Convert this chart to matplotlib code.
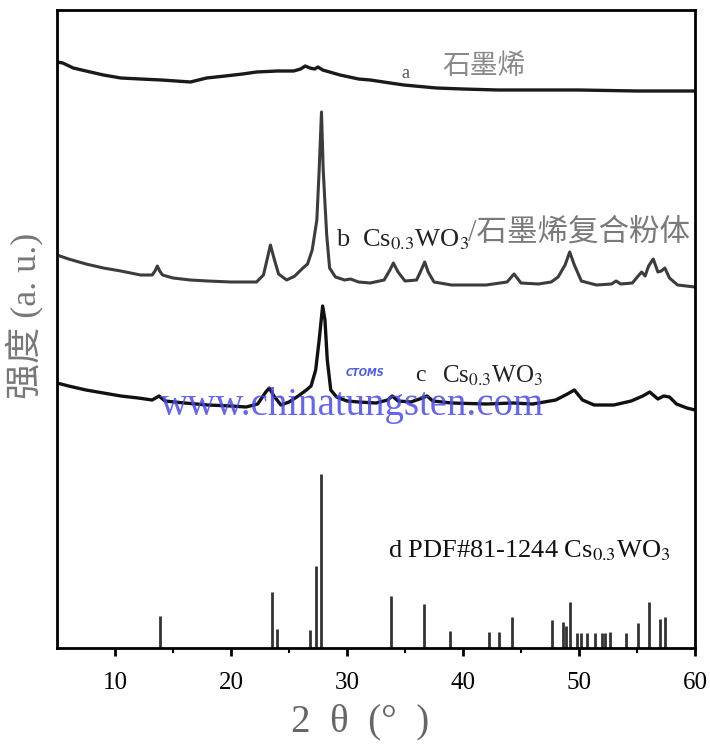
import matplotlib.pyplot as plt

# curve a: graphene (2theta, intensity in arbitrary units)
a_x = [5.0, 5.5, 6.4, 7.5, 9.0, 10.5, 12.2, 14.0, 16.5, 17.9, 19.5, 21.0, 22.2, 24.0,
       25.4, 26.0, 26.4, 26.8, 27.2, 27.5, 27.9, 29.4, 31.0, 32.0, 34.9, 37.7, 40.0,
       43.0, 46.4, 50.0, 55.0, 60.0]
a_y = [586, 585, 580, 577, 573, 570, 569, 568, 566, 570, 572, 574, 576, 577,
       577, 579, 582, 580, 579, 581, 578, 573, 569, 568, 563, 560, 559,
       558, 558, 558, 557, 557]

# curve b: Cs0.3WO3 / graphene composite
b_x = [5.0, 6.0, 7.5, 9.0, 10.5, 12.2, 13.2, 13.45, 13.65, 13.85, 14.1, 15.0, 16.5, 18.0,
       20.0, 22.2, 22.8, 23.1, 23.4, 23.7, 24.1, 24.8, 25.5, 26.2, 26.6, 27.0, 27.4,
       27.6, 27.8, 27.95, 28.1, 28.25, 28.5, 29.0, 29.8, 30.3, 31.0, 32.0, 33.2, 33.7,
       34.0, 34.4, 35.0, 36.0, 36.4, 36.7, 37.0, 37.5, 39.0, 42.0, 43.8, 44.4, 45.0,
       46.5, 47.6, 48.2, 48.8, 49.2, 49.6, 50.2, 51.5, 52.8, 53.2, 53.6, 54.6, 55.1,
       55.4, 55.7, 56.0, 56.4, 56.8, 57.1, 57.4, 57.8, 58.5, 60.0]
b_y = [393, 389, 384, 380, 377, 373, 373, 377, 382, 377, 373, 370, 368, 367,
       366, 366, 373, 388, 403, 390, 374, 368, 372, 380, 384, 398, 428,
       478, 536, 478, 445, 413, 380, 371, 368, 369, 366, 365, 368, 378,
       385, 376, 367, 368, 378, 386, 376, 366, 363, 363, 366, 374, 365,
       364, 366, 371, 383, 396, 383, 367, 363, 364, 367, 364, 365, 372,
       376, 372, 382, 389, 376, 377, 380, 370, 363, 361]

# curve c: Cs0.3WO3
c_x = [5.0, 6.0, 7.5, 9.0, 10.5, 12.0, 13.2, 13.8, 14.3, 16.0, 18.0, 20.0, 21.3, 22.3,
       23.0, 23.3, 23.7, 24.3, 25.0, 25.8, 26.5, 26.9, 27.3, 27.6, 27.9, 28.1, 28.3,
       28.6, 29.1, 30.0, 31.0, 32.5, 33.5, 33.9, 34.4, 35.5, 36.5, 36.9, 37.4, 39.0,
       42.0, 44.3, 46.0, 48.0, 49.0, 49.6, 50.3, 51.3, 53.0, 54.5, 55.5, 56.1, 56.8,
       57.3, 57.8, 58.4, 59.3, 60.0]
c_y = [265, 262, 258, 255, 252, 250, 248, 252, 247, 245, 243, 242, 241, 244,
       256, 260, 252, 243, 246, 252, 258, 262, 278, 308, 342, 328, 288,
       258, 251, 247, 246, 245, 248, 252, 247, 246, 250, 252, 247, 245,
       244, 245, 244, 248, 254, 258, 248, 243, 243, 247, 252, 256, 249,
       252, 251, 244, 240, 238]

# d: PDF#81-1244 reference lines
stick_x = [13.9, 23.5, 24.0, 26.8, 27.3, 27.8, 33.8, 36.6, 38.9, 42.2, 43.1, 44.2,
           47.7, 48.6, 48.85, 49.2, 49.8, 50.2, 50.7, 51.4, 52.0, 52.2, 52.7, 54.05,
           55.05, 56.0, 57.0, 57.4]
stick_h = [32, 56, 19, 18, 82, 174, 52, 44, 17, 16, 16, 31,
           28, 26, 22, 46, 15, 15, 15, 15, 15, 15, 16, 15,
           25, 46, 29, 31]

plt.rcParams['font.family'] = ['Liberation Serif', 'Noto Sans CJK SC']
plt.rcParams['mathtext.fontset'] = 'stix'

fig = plt.figure(figsize=(7.1, 7.54), dpi=100)
ax = fig.add_axes([57 / 710, 106 / 754, 638 / 710, 638 / 754])

ax.plot(a_x, a_y, color='#1a1a1a', lw=2.4, solid_joinstyle='round')
ax.plot(b_x, b_y, color='#3c3c3c', lw=2.2, solid_joinstyle='round')
ax.plot(c_x, c_y, color='#111111', lw=2.4, solid_joinstyle='round')
ax.vlines(stick_x, 0, stick_h, color='#333333', lw=2)

ax.set_xlim(5, 60)
ax.set_ylim(0, 638)
ax.set_xticks(range(10, 61, 10))
ax.set_xticks(range(15, 60, 10), minor=True)
ax.set_yticks([])
ax.tick_params(axis='x', which='major', direction='out', length=6, width=2,
               labelsize=18, pad=11)
ax.tick_params(axis='x', which='minor', direction='out', length=3.5, width=1.5)
for s in ax.spines.values():
    s.set_linewidth(2)

# curve labels
ax.text(34.7, 575, 'a', fontsize=13, color='#555555', va='center')
ax.text(38.2, 581, '石墨烯', fontsize=20, color='#8a8a8a', va='center')
ax.text(29.05, 402, 'b  Cs$_{0.3}$WO$_3$', fontsize=19, color='#222222', va='baseline')
ax.text(40.4, 415, '/石墨烯复合粉体', fontsize=22, color='#7a7a7a', va='center')
ax.text(35.9, 267, 'c', fontsize=17, color='#222222', va='baseline')
ax.text(38.2, 265, 'Cs$_{0.3}$WO$_3$', fontsize=18, color='#222222', va='baseline')
ax.text(33.5, 91, 'd PDF#81-1244 Cs$_{0.3}$WO$_3$', fontsize=19, color='#111111',
        va='baseline')

# axis titles
fig.text(25 / 710, 1 - 316 / 754, '强度 (a. u.)', rotation=90, fontsize=26,
         color='#777777', ha='center', va='center')
fig.text(360 / 710, 1 - 722 / 754, '2  θ  (°  )', fontsize=28, color='#666666',
         ha='center', va='center')

# watermark
fig.text(160 / 710, 1 - 415 / 754, 'www.chinatungsten.com', fontsize=28,
         color='#4a4af0', alpha=0.85, va='baseline')
fig.text(365 / 710, 1 - 373 / 754, 'CTOMS', fontsize=7, color='#4a5af0',
         style='italic', weight='bold', ha='center', va='center',
         family='DejaVu Sans')

fig.savefig('out.png', dpi=100)
